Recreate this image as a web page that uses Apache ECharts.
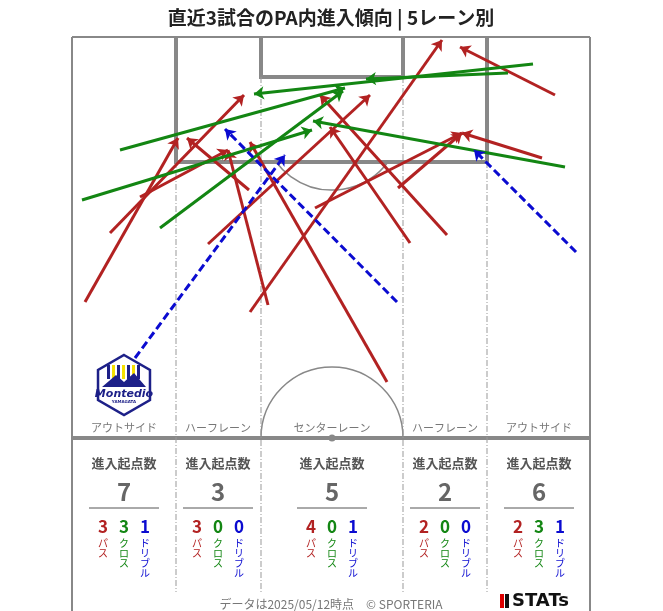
<!DOCTYPE html>
<html><head><meta charset="utf-8">
<script src="https://cdn.jsdelivr.net/npm/echarts@6/dist/echarts.min.js"></script>
<style>html,body{margin:0;padding:0;background:#fff}#c{width:663px;height:611px}</style>
</head><body><div id="c"></div>
<script>
const lanes = ['アウトサイド','ハーフレーン','センターレーン','ハーフレーン','アウトサイド'];
const laneTotals = [7,3,5,2,6];
const lanePass = [3,3,4,2,2];
const laneCross = [3,0,0,0,3];
const laneDribble = [1,0,1,0,1];
// arrows: [x1,y1,x2,y2] in pitch pixel units
const passes = [
 [85,302,178,138],[110,233,244,95],[140,197,228,150],
 [249,190,187,138],[268,305,228,150],[208,244,370,95],
 [250,312,442,40],[387,382,250,142],[315,208,462,133],[447,235,320,95],
 [410,243,330,127],[398,188,462,133],
 [542,158,462,133],[555,95,460,47]
];
const crosses = [
 [120,150,345,88],[82,200,312,130],[160,228,343,91],
 [533,64,254,94],[508,73,366,79],[565,167,313,121]
];
const dribbles = [[135,358,285,155],[397,302,225,129],[576,252,474,150]];

const laneX = [124,218,332,445,539];
const RED='#b22222', GREEN='#138613', BLUE='#0b0bd0', GRAY='#888';
const toLines = a => a.map(d=>({coords:[[d[0],d[1]],[d[2],d[3]]]}));

const g = [];
const line=(x1,y1,x2,y2,w,c,dash)=>g.push({type:'line',shape:{x1,y1,x2,y2},style:{stroke:c||GRAY,lineWidth:w,lineDash:dash||null},z:1});
// pitch
line(72,37,590,37,2); line(72,37,72,611,2); line(590,37,590,611,2);
g.push({type:'polyline',shape:{points:[[176,37],[176,162],[487,162],[487,37]]},style:{stroke:GRAY,lineWidth:4,fill:null},z:1});
g.push({type:'polyline',shape:{points:[[261,37],[261,77],[403,77],[403,37]]},style:{stroke:GRAY,lineWidth:4,fill:null},z:1});
line(72,438,590,438,4);
g.push({type:'arc',shape:{cx:332,cy:438,r:71,startAngle:Math.PI,endAngle:2*Math.PI},style:{stroke:GRAY,lineWidth:1.5,fill:null},z:1});
g.push({type:'circle',shape:{cx:332,cy:438,r:3.5},style:{fill:GRAY},z:1});
g.push({type:'arc',shape:{cx:332,cy:120,r:70,startAngle:0.63,endAngle:Math.PI-0.63},style:{stroke:GRAY,lineWidth:1.5,fill:null},z:1});
[[176,162],[261,77],[403,77],[487,162]].forEach(p=>line(p[0],p[1],p[0],592,1,'#999',[6,2,1,2]));
lanes.forEach((t,i)=>{
 g.push({type:'text',x:laneX[i],y:428,style:{text:t,fill:'#777',font:'11px "Noto Sans CJK JP"',align:'center',verticalAlign:'middle'},z:5});
 g.push({type:'text',x:laneX[i],y:463,style:{text:'進入起点数',fill:'#555',font:'bold 13px "Noto Sans CJK JP"',align:'center',verticalAlign:'middle'},z:5});
 g.push({type:'text',x:laneX[i],y:492,style:{text:String(laneTotals[i]),fill:'#666',font:'bold 24px "Noto Sans CJK JP"',align:'center',verticalAlign:'middle'},z:5});
 line(laneX[i]-35,508,laneX[i]+35,508,1,'#555');
 const cols=[[lanePass[i],RED,'パス'],[laneCross[i],GREEN,'クロス'],[laneDribble[i],BLUE,'ドリブル']];
 cols.forEach((c,j)=>{
  const x=laneX[i]-21+j*21;
  g.push({type:'text',x:x,y:527,style:{text:String(c[0]),fill:c[1],font:'bold 17px "Noto Sans CJK JP"',align:'center',verticalAlign:'middle'},z:5});
  g.push({type:'text',x:x,y:538,style:{text:c[2].split('').join('\n'),fill:c[1],font:'10px "Noto Sans CJK JP"',align:'center',verticalAlign:'top',lineHeight:10},z:5});
 });
});
// logo
const hx=124,hy=385,hr=30;
const hex=[];for(let k=0;k<6;k++){const a=Math.PI/2*3+k*Math.PI/3;hex.push([hx+hr*Math.cos(a),hy+hr*Math.sin(a)]);}
g.push({type:'polygon',shape:{points:hex},style:{fill:'#fff',stroke:'#1d2088',lineWidth:2.5},z:3});
for(let k=0;k<7;k++) g.push({type:'rect',shape:{x:hx-17+k*5,y:hy-20,width:3,height:14},style:{fill:k%2?'#f5e000':'#1d2088'},z:4});
g.push({type:'polygon',shape:{points:[[hx-22,hy+2],[hx-8,hy-10],[hx,hy-3],[hx+10,hy-12],[hx+22,hy+2]]},style:{fill:'#1d2088'},z:4});
g.push({type:'text',x:hx,y:hy+9,style:{text:'Montedio',fill:'#1d2088',font:'italic bold 11px "DejaVu Sans"',align:'center',verticalAlign:'middle'},z:5});
g.push({type:'text',x:hx,y:hy+17,style:{text:'YAMAGATA',fill:'#1d2088',font:'bold 4px "DejaVu Sans"',align:'center',verticalAlign:'middle'},z:5});
// title & footer
g.push({type:'text',x:331,y:18,style:{text:'直近3試合のPA内進入傾向 | 5レーン別',fill:'#222',font:'bold 19px "Noto Sans CJK JP"',align:'center',verticalAlign:'middle'},z:5});
g.push({type:'text',x:331,y:604,style:{text:'データは2025/05/12時点　© SPORTERIA',fill:'#777',font:'12px "Noto Sans CJK JP"',align:'center',verticalAlign:'middle'},z:5});
g.push({type:'rect',shape:{x:500,y:594,width:4,height:14},style:{fill:'#d00'},z:5});
g.push({type:'rect',shape:{x:505,y:594,width:4,height:14},style:{fill:'#111'},z:5});
g.push({type:'text',x:512,y:601,style:{text:'STATs',fill:'#111',font:'bold 18px "DejaVu Sans"',align:'left',verticalAlign:'middle'},z:5});

const mk=(name,data,color,type)=>({type:'lines',name,coordinateSystem:'cartesian2d',data:toLines(data),
 symbol:['none','arrow'],symbolSize:10,z:10,
 lineStyle:{color,width:3,opacity:1,type:type||'solid'}});
const chart=echarts.init(document.getElementById('c'));
chart.setOption({animation:false,
 grid:{left:0,right:0,top:0,bottom:0},
 xAxis:{type:'value',min:0,max:663,show:false},
 yAxis:{type:'value',min:0,max:611,inverse:true,show:false},
 graphic:g,
 series:[mk('パス',passes,RED),mk('クロス',crosses,GREEN),mk('ドリブル',dribbles,BLUE,[8,4])]
});
</script></body></html>
